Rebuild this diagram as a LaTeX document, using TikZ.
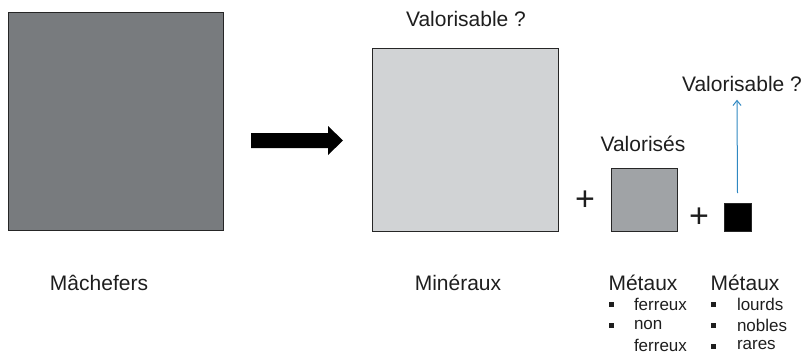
\documentclass[tikz,border=0pt]{standalone}
\usepackage{fontspec}
\setmainfont{Liberation Sans}
\usetikzlibrary{arrows.meta}
\definecolor{dgrey}{HTML}{787B7E}
\definecolor{lgrey}{HTML}{D1D3D5}
\definecolor{mgrey}{HTML}{A0A3A6}
\definecolor{txt}{HTML}{1E1E1E}
\definecolor{blueline}{HTML}{2F88C2}
\tikzset{
  box/.style={draw=black!85, line width=0.9pt, inner sep=0pt, outer sep=0pt},
  lbl/.style={inner sep=0pt, outer sep=0pt, text=txt, font=\fontsize{21}{24}\selectfont},
  plus/.style={inner sep=0pt, outer sep=0pt, text=txt, font=\fontsize{34}{36}\selectfont},
  sm/.style={inner sep=0pt, outer sep=0pt, text=txt, anchor=west, font=\fontsize{17}{20}\selectfont},
  bul/.style={fill=txt, inner sep=0pt, minimum size=5pt},
}
\begin{document}
\begin{tikzpicture}[x=1pt,y=-1pt]
\useasboundingbox (0,0) rectangle (807,354);
% boxes
\node[box, fill=dgrey, minimum width=215pt, minimum height=218pt] (mach) at (115.5,121) {};
\node[box, fill=lgrey, minimum width=186pt, minimum height=183pt] (min) at (465,139.5) {};
\node[box, fill=mgrey, minimum width=66pt, minimum height=63pt] (met) at (644,199.5) {};
\node[box, fill=black, minimum width=27pt, minimum height=28pt] (blk) at (737.5,217) {};
% big arrow
\fill[black] (251,133) -- (328,133) -- (328,126) -- (343,140.5) -- (328,155) -- (328,148) -- (251,148) -- cycle;
% plus signs
\node[plus] (p1) at (585,201) {+};
\node[plus] (p2) at (699,218) {+};
% labels
\node[lbl] (v1) at (466,19) {Valorisable ?};
\node[lbl] (v2) at (742,84) {Valorisable ?};
\node[lbl] (vs) at (643,144) {Valorisés};
\node[lbl] (l1) at (99,283) {Mâchefers};
\node[lbl] (l2) at (458,283) {Minéraux};
\node[lbl] (l3) at (643,283) {Métaux};
\node[lbl] (l4) at (745,283) {Métaux};
% blue arrow
\draw[blueline, line width=1pt, -{Straight Barb[length=5pt,width=8pt]}] ([yshift=10pt]blk.north) -- ([xshift=-5pt,yshift=-8pt]v2.south);
% bullets
\node[bul] (b1) at (611,304) {};
\node[bul] (b2) at (611,325) {};
\node[bul] (b3) at (713,304) {};
\node[bul] (b4) at (713,325) {};
\node[bul] (b5) at (713,346) {};
\node[sm] (t1) at (634,304) {ferreux};
\node[sm] (t2) at (634,325) {non};
\node[sm] (t3) at (634,345) {ferreux};
\node[sm] (t4) at (737,304) {lourds};
\node[sm] (t5) at (737,325) {nobles};
\node[sm] (t6) at (737,345) {rares};
\end{tikzpicture}
\end{document}
